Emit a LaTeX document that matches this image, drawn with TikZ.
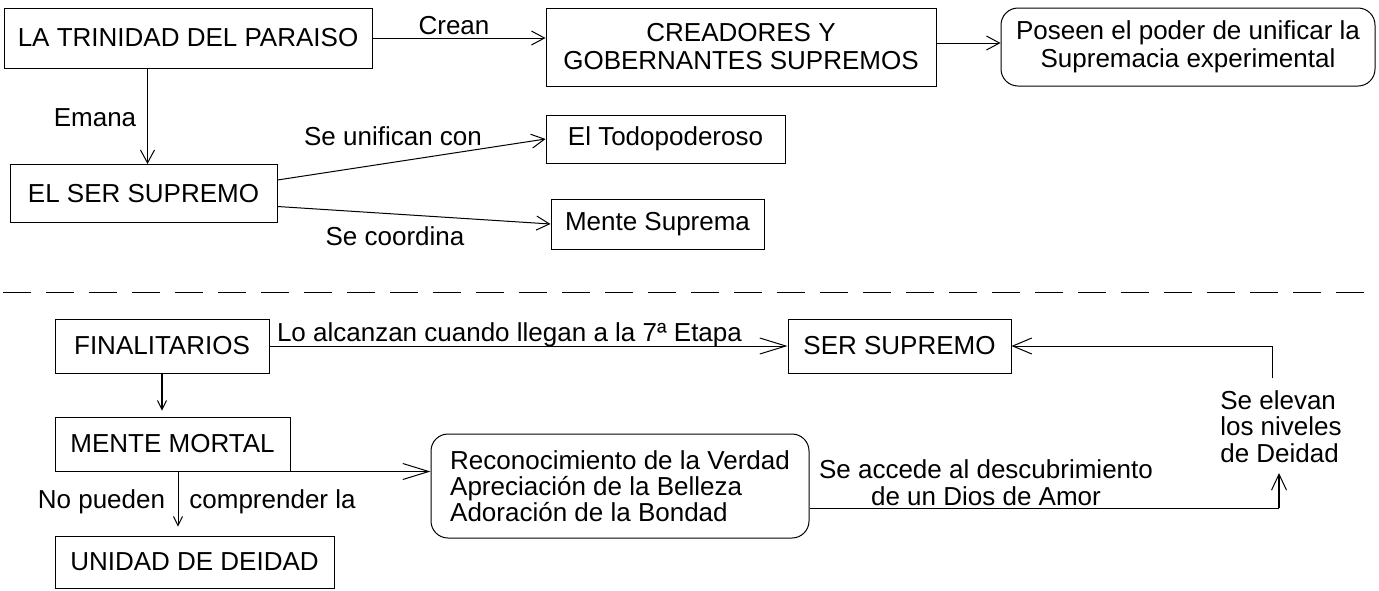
\documentclass[tikz,border=0pt]{standalone}
\usepackage{fontspec}
\setmainfont{Liberation Sans}
\usetikzlibrary{arrows.meta}
\begin{document}
\begin{tikzpicture}[x=1pt,y=-1pt,
  every node/.style={font=\fontsize{26}{28}\selectfont},
  box/.style={draw, line width=1pt, inner sep=0pt, align=center},
  rbox/.style={box, rounded corners=17pt},
  lbl/.style={inner sep=0pt, align=center},
  conn/.style={line width=1pt, -{Straight Barb[length=13pt,width=14pt]}},
  upconn/.style={line width=2pt, -{Straight Barb[length=16pt,width=15pt,line width=1pt]}},
  midconn/.style={line width=1pt, -{Straight Barb[length=19pt,width=16pt]}},
  longconn/.style={line width=1pt, -{Straight Barb[length=26pt,width=16pt]}},
  smallconn/.style={-{Straight Barb[length=9pt,width=9pt,line width=1pt]}},
]
\useasboundingbox (0,0) rectangle (1379,590);

% ---------- upper part ----------
\node[box, minimum width=368pt, minimum height=60pt] (tri) at (188,38) {LA TRINIDAD DEL PARAISO};
\node[box, minimum width=390pt, minimum height=78pt] (crea) at (741,47) {CREADORES Y\\GOBERNANTES SUPREMOS};
\node[rbox, minimum width=374pt, minimum height=78pt] (pos) at (1188,47) {Poseen el poder de unificar la\\Supremacia experimental};
\node[box, minimum width=267pt, minimum height=58pt] (ser) at (143.5,193.5) {EL SER SUPREMO};
\node[box, minimum width=239pt, minimum height=48pt] (todo) at (665.5,139) {El Todopoderoso};
\node[box, minimum width=213pt, minimum height=50pt] (mente) at (657.5,224) {Mente Suprema};

\draw[conn] (tri.east) -- (tri.east -| crea.west);
\node[lbl] (crean) at (454,26) {Crean};
\draw[conn] ([yshift=4pt]crea.east) -- ([yshift=4pt]pos.west);
\draw[conn] ([xshift=4pt]ser.north |- tri.south) -- ([xshift=4pt]ser.north);
\node[lbl] (emana) at (95,118) {Emana};
\draw[conn] ([yshift=13.5pt]ser.east) -- (todo.west);
\node[lbl] (unif) at (393,136) {Se unifican con};
\draw[conn] ([yshift=-13pt]ser.east) -- (mente.west);
\node[lbl] (coord) at (395,236) {Se coordina};

% ---------- separator ----------
\coordinate (dl) at (3,292);
\coordinate (dr) at (1379,292);
\draw[line width=1pt, dash pattern=on 28pt off 15pt] (dl) -- (dr);

% ---------- lower part ----------
\node[box, minimum width=214pt, minimum height=54pt] (fin) at (162,346) {FINALITARIOS};
\node[box, minimum width=223pt, minimum height=54pt] (sers) at (899.5,346) {SER SUPREMO};
\node[box, minimum width=235pt, minimum height=54pt] (mm) at (172.5,444) {MENTE MORTAL};
\node[box, minimum width=279pt, minimum height=52pt] (uni) at (194.5,562) {UNIDAD DE DEIDAD};
\node[rbox, minimum width=378pt, minimum height=104pt, align=left, font=\fontsize{26}{26}\selectfont] (rec) at (620,486)
  {Reconocimiento de la Verdad\\Apreciación de la Belleza\\Adoración de la Bondad};

\draw[longconn] (fin.east) -- (sers.west);
\node[lbl] (alc) at (509.5,335) {Lo alcanzan cuando llegan a la 7ª Etapa};
\draw[line width=2pt, smallconn] (fin.south) -- ([yshift=6pt]fin.south |- mm.north);
\draw[longconn] (mm.south east) -- (mm.south east -| rec.west);
\draw[line width=1pt, smallconn, shorten >=9pt] ([xshift=5.5pt]mm.south) -- ([xshift=5.5pt]mm.south |- uni.north);
\node[lbl] (nop) at (101.5,502) {No pueden};
\node[lbl] (comp) at (272.5,502) {comprender la};

\coordinate (c1) at (1279,508);
\coordinate (c2) at (1279,473);
\coordinate (c3) at (1272,378);
\draw[line width=1pt] ([yshift=-22pt]rec.east) -- (c1);
\draw[upconn] (c1) -- (c2);
\draw[midconn] (c3) -- (c3 |- sers.east) -- (sers.east);
\node[lbl, align=left, font=\fontsize{26}{26.5}\selectfont] (elev) at (1281,426.5) {Se elevan\\los niveles\\de Deidad};
\node[lbl, font=\fontsize{26}{27}\selectfont] (acc) at (986,483) {Se accede al descubrimiento\\de un Dios de Amor};
\end{tikzpicture}
\end{document}
